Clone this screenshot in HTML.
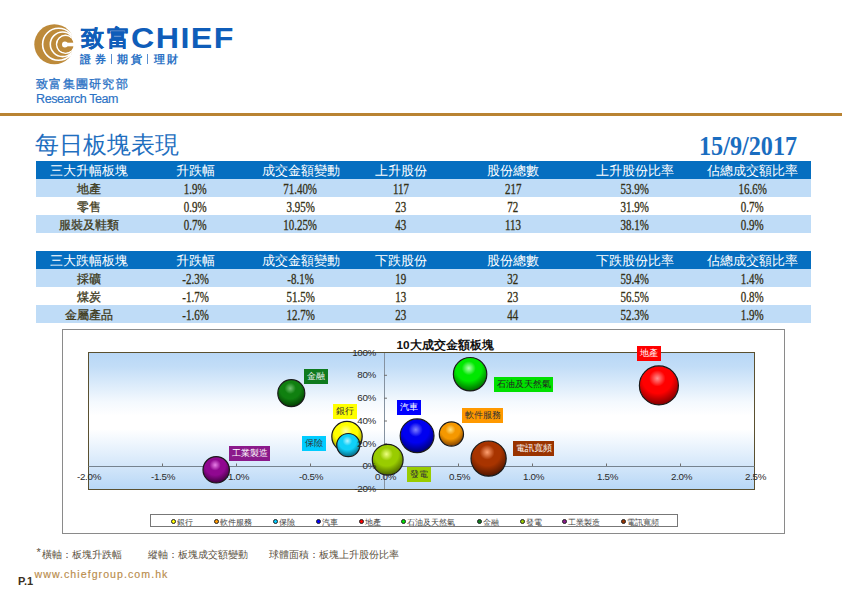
<!DOCTYPE html>
<html><head><meta charset="utf-8">
<style>
*{margin:0;padding:0;box-sizing:border-box}
html,body{width:842px;height:595px;overflow:hidden;background:#fff}
body{position:relative;font-family:"Liberation Sans",sans-serif}
.a{position:absolute;white-space:nowrap}
.gold{background:#B98332}
table.t{position:absolute;left:36px;width:775px;border-collapse:collapse;table-layout:fixed}
table.t td{height:16px;padding:2px 0 0 0;text-align:center;vertical-align:middle;font-family:"Liberation Serif",serif;font-size:12px;color:#3e3a1a;line-height:16px;overflow:hidden;-webkit-text-stroke:0.3px #3e3a1a}
table.t tr.h td{background:#056EC0;color:#fff;font-family:"Liberation Sans",sans-serif;font-size:13px;-webkit-text-stroke:0}
table.t tr.b td{background:#BFDCF7}
.num{display:inline-block;vertical-align:top;line-height:16px;transform:scaleX(.8);font-size:13.7px;position:relative;top:0.5px;-webkit-text-stroke:0.3px #332f14;color:#332f14}
.lab{position:absolute;font-size:9px;line-height:14.5px;height:14.5px;text-align:center;white-space:nowrap}
.ax{position:absolute;font-size:9.8px;color:#2a2a2a;white-space:nowrap;line-height:10px;letter-spacing:-0.3px}
.lg{position:absolute;top:516.5px;font-size:8.4px;color:#444;white-space:nowrap;line-height:10px}
.lg i{display:inline-block;width:5px;height:5px;border-radius:50%;border:0.8px solid #222;margin-right:1px;vertical-align:1px}
</style></head><body>

<!-- logo -->
<svg class="a" style="left:0;top:0" width="842" height="120" viewBox="0 0 842 120">
  <defs><clipPath id="lc"><rect x="0" y="0" width="71.8" height="120"/></clipPath><clipPath id="lc2"><rect x="0" y="0" width="73.8" height="120"/></clipPath></defs>
  <g clip-path="url(#lc)">
    <circle cx="54.3" cy="44.3" r="20" fill="#BD8A3A"/>
    <circle cx="58.6" cy="44.3" r="16" fill="none" stroke="#fff" stroke-width="1.6"/>
    <circle cx="62.6" cy="44.3" r="12.3" fill="none" stroke="#fff" stroke-width="1.6"/>
    <circle cx="65.5" cy="44.3" r="8.9" fill="none" stroke="#fff" stroke-width="1.6"/>
  </g>
  <circle cx="65.6" cy="44.4" r="8.1" fill="#BD8A3A" clip-path="url(#lc2)"/>
  <circle cx="64.9" cy="44.5" r="2.9" fill="#fff"/>
  <rect x="64.9" y="42.7" width="10" height="3.6" fill="#fff"/>
</svg>
<div class="a" style="left:80.5px;top:23px;font-size:23px;font-weight:bold;color:#0F5DB9;-webkit-text-stroke:0.3px #0F5DB9;line-height:30px;letter-spacing:3px">致富</div>
<div class="a" style="left:130.5px;top:20px;font-size:29px;font-weight:bold;color:#0F5DB9;line-height:36px;letter-spacing:1.3px;transform-origin:0 0;transform:scaleX(1.11)">CHIEF</div>
<div class="a" style="left:80px;top:52px;font-size:11px;font-weight:bold;color:#2B72C5;line-height:14px;letter-spacing:3.5px">證券</div>
<div class="a" style="left:117px;top:52px;font-size:11px;font-weight:bold;color:#2B72C5;line-height:14px;letter-spacing:2.5px">期貨</div>
<div class="a" style="left:154px;top:52px;font-size:11px;font-weight:bold;color:#2B72C5;line-height:14px;letter-spacing:1.5px">理財</div>
<div class="a" style="left:111px;top:54px;width:1px;height:10px;background:#5a8fd0"></div>
<div class="a" style="left:147px;top:54px;width:1px;height:10px;background:#5a8fd0"></div>
<div class="a" style="left:36px;top:77px;font-size:11.5px;color:#2B72C5;line-height:14px;letter-spacing:1.3px;-webkit-text-stroke:0.3px #2B72C5">致富集團研究部</div>
<div class="a" style="left:36px;top:92px;font-size:12.5px;color:#2B72C5;-webkit-text-stroke:0.15px #2B72C5;line-height:14px;letter-spacing:-0.4px">Research Team</div>
<div class="a gold" style="left:0;top:113px;width:842px;height:3px"></div>

<!-- title -->
<div class="a" style="left:35px;top:131px;font-size:24px;color:#1F6FBF;line-height:28px">每日板塊表現</div>
<div class="a" style="left:698.5px;top:131.7px;font-size:26.3px;font-weight:bold;color:#1A6DC0;line-height:30px;font-family:'Liberation Serif',serif;transform-origin:0 0;transform:scaleX(.92)">15/9/2017</div>

<!-- table 1 -->
<table class="t" style="top:161px">
<colgroup><col style="width:105px"><col style="width:109px"><col style="width:101px"><col style="width:100px"><col style="width:124px"><col style="width:119px"><col style="width:117px"></colgroup>
<tr class="h"><td>三大升幅板塊</td><td>升跌幅</td><td>成交金額變動</td><td>上升股份</td><td>股份總數</td><td>上升股份比率</td><td>佔總成交額比率</td></tr>
<tr class="b"><td>地產</td><td><span class="num">1.9%</span></td><td><span class="num">71.40%</span></td><td><span class="num">117</span></td><td><span class="num">217</span></td><td><span class="num">53.9%</span></td><td><span class="num">16.6%</span></td></tr>
<tr><td>零售</td><td><span class="num">0.9%</span></td><td><span class="num">3.95%</span></td><td><span class="num">23</span></td><td><span class="num">72</span></td><td><span class="num">31.9%</span></td><td><span class="num">0.7%</span></td></tr>
<tr class="b"><td>服裝及鞋類</td><td><span class="num">0.7%</span></td><td><span class="num">10.25%</span></td><td><span class="num">43</span></td><td><span class="num">113</span></td><td><span class="num">38.1%</span></td><td><span class="num">0.9%</span></td></tr>
</table>

<!-- table 2 -->
<table class="t" style="top:251px">
<colgroup><col style="width:105px"><col style="width:109px"><col style="width:101px"><col style="width:100px"><col style="width:124px"><col style="width:119px"><col style="width:117px"></colgroup>
<tr class="h"><td>三大跌幅板塊</td><td>升跌幅</td><td>成交金額變動</td><td>下跌股份</td><td>股份總數</td><td>下跌股份比率</td><td>佔總成交額比率</td></tr>
<tr class="b"><td>採礦</td><td><span class="num">-2.3%</span></td><td><span class="num">-8.1%</span></td><td><span class="num">19</span></td><td><span class="num">32</span></td><td><span class="num">59.4%</span></td><td><span class="num">1.4%</span></td></tr>
<tr><td>煤炭</td><td><span class="num">-1.7%</span></td><td><span class="num">51.5%</span></td><td><span class="num">13</span></td><td><span class="num">23</span></td><td><span class="num">56.5%</span></td><td><span class="num">0.8%</span></td></tr>
<tr class="b"><td>金屬產品</td><td><span class="num">-1.6%</span></td><td><span class="num">12.7%</span></td><td><span class="num">23</span></td><td><span class="num">44</span></td><td><span class="num">52.3%</span></td><td><span class="num">1.9%</span></td></tr>
</table>

<!-- chart -->
<div class="a" style="left:62px;top:329px;width:723px;height:205px;border:1px solid #8a8a8a"></div>
<div class="a" style="left:88px;top:352px;width:667px;height:138px;border:1.3px solid #5a5030;background:linear-gradient(#B8D7F6 0%,#C2DDF7 10%,#F4F9FE 36%,#ffffff 46%,#ffffff 56%,#F2F8FE 64%,#B8D7F6 100%)"></div>
<div class="a" style="left:396.5px;top:337.5px;font-size:11.8px;font-weight:bold;color:#111;line-height:14px">10大成交金額板塊</div>

<svg class="a" style="left:0;top:0" width="842" height="595" viewBox="0 0 842 595">
  <defs>
    <radialGradient id="gy" cx="0.46" cy="0.32" r="0.7"><stop offset="0" stop-color="#ffffb0"/><stop offset="0.3" stop-color="#ffff00"/><stop offset="0.55" stop-color="#ffff00"/><stop offset="1" stop-color="#8a8600"/></radialGradient>
    <radialGradient id="gc" cx="0.46" cy="0.32" r="0.7"><stop offset="0" stop-color="#b0f4ff"/><stop offset="0.3" stop-color="#10d0f8"/><stop offset="0.55" stop-color="#10d0f8"/><stop offset="1" stop-color="#066078"/></radialGradient>
    <radialGradient id="gg" cx="0.46" cy="0.32" r="0.7"><stop offset="0" stop-color="#70c070"/><stop offset="0.3" stop-color="#108010"/><stop offset="0.55" stop-color="#108010"/><stop offset="1" stop-color="#023802"/></radialGradient>
    <radialGradient id="gp" cx="0.46" cy="0.32" r="0.7"><stop offset="0" stop-color="#e880e8"/><stop offset="0.3" stop-color="#900890"/><stop offset="0.55" stop-color="#900890"/><stop offset="1" stop-color="#3a003a"/></radialGradient>
    <radialGradient id="gl" cx="0.46" cy="0.32" r="0.7"><stop offset="0" stop-color="#eeff80"/><stop offset="0.3" stop-color="#99cc00"/><stop offset="0.55" stop-color="#99cc00"/><stop offset="1" stop-color="#445c00"/></radialGradient>
    <radialGradient id="gb" cx="0.46" cy="0.32" r="0.7"><stop offset="0" stop-color="#8080ff"/><stop offset="0.3" stop-color="#0000f0"/><stop offset="0.55" stop-color="#0000f0"/><stop offset="1" stop-color="#000068"/></radialGradient>
    <radialGradient id="go" cx="0.46" cy="0.32" r="0.7"><stop offset="0" stop-color="#ffe080"/><stop offset="0.3" stop-color="#f59800"/><stop offset="0.55" stop-color="#f59800"/><stop offset="1" stop-color="#7a3c00"/></radialGradient>
    <radialGradient id="gn" cx="0.46" cy="0.32" r="0.7"><stop offset="0" stop-color="#b0ffb0"/><stop offset="0.3" stop-color="#00e800"/><stop offset="0.55" stop-color="#00e800"/><stop offset="1" stop-color="#006000"/></radialGradient>
    <radialGradient id="gw" cx="0.46" cy="0.32" r="0.7"><stop offset="0" stop-color="#ffa070"/><stop offset="0.3" stop-color="#a83400"/><stop offset="0.55" stop-color="#a83400"/><stop offset="1" stop-color="#4a1400"/></radialGradient>
    <radialGradient id="gr" cx="0.46" cy="0.32" r="0.7"><stop offset="0" stop-color="#ff9090"/><stop offset="0.3" stop-color="#ff0000"/><stop offset="0.55" stop-color="#ff0000"/><stop offset="1" stop-color="#780000"/></radialGradient>
  </defs>
  <!-- axes -->
  <line x1="88.5" y1="466.5" x2="754.5" y2="466.5" stroke="#76838f" stroke-width="1"/>
  <line x1="384.5" y1="353" x2="384.5" y2="489" stroke="#8592a0" stroke-width="1"/>
  <g stroke="#707070" stroke-width="1">
    <line x1="162.5" y1="463.5" x2="162.5" y2="466"/><line x1="236.5" y1="463.5" x2="236.5" y2="466"/><line x1="310.5" y1="463.5" x2="310.5" y2="466"/>
    <line x1="458.5" y1="463.5" x2="458.5" y2="466"/><line x1="532.5" y1="463.5" x2="532.5" y2="466"/><line x1="606.5" y1="463.5" x2="606.5" y2="466"/><line x1="680.5" y1="463.5" x2="680.5" y2="466"/>
    <line x1="384" y1="375.3" x2="387" y2="375.3"/><line x1="384" y1="398.2" x2="387" y2="398.2"/><line x1="384" y1="421" x2="387" y2="421"/><line x1="384" y1="443.8" x2="387" y2="443.8"/>
  </g>
  <!-- bubbles -->
  <g stroke="#1a1a1a" stroke-width="1.2">
    <circle cx="216.2" cy="469.8" r="13.2" fill="url(#gp)"/>
    <circle cx="291.3" cy="393.2" r="13.5" fill="url(#gg)"/>
    <circle cx="347" cy="436.6" r="15.2" fill="url(#gy)"/>
    <circle cx="348.3" cy="445.1" r="11.6" fill="url(#gc)"/>
    <circle cx="387.7" cy="459.7" r="15.4" fill="url(#gl)"/>
    <circle cx="417.1" cy="435.8" r="16.9" fill="url(#gb)"/>
    <circle cx="451.4" cy="434" r="12.1" fill="url(#go)"/>
    <circle cx="470.1" cy="374.2" r="16.7" fill="url(#gn)"/>
    <circle cx="488.6" cy="458.6" r="17.6" fill="url(#gw)"/>
    <circle cx="658.9" cy="385.4" r="19.5" fill="url(#gr)"/>
  </g>
</svg>

<!-- axis labels -->
<div class="ax" style="left:77px;top:471.5px">-2.0%</div>
<div class="ax" style="left:151px;top:471.5px">-1.5%</div>
<div class="ax" style="left:225px;top:471.5px">-1.0%</div>
<div class="ax" style="left:299px;top:471.5px">-0.5%</div>
<div class="ax" style="left:375px;top:471.5px">0.0%</div>
<div class="ax" style="left:449px;top:471.5px">0.5%</div>
<div class="ax" style="left:523px;top:471.5px">1.0%</div>
<div class="ax" style="left:597px;top:471.5px">1.5%</div>
<div class="ax" style="left:671px;top:471.5px">2.0%</div>
<div class="ax" style="left:745px;top:471.5px">2.5%</div>
<div class="ax" style="left:346px;top:348px;width:30px;text-align:right">100%</div>
<div class="ax" style="left:346px;top:370px;width:30px;text-align:right">80%</div>
<div class="ax" style="left:346px;top:393px;width:30px;text-align:right">60%</div>
<div class="ax" style="left:346px;top:416px;width:30px;text-align:right">40%</div>
<div class="ax" style="left:346px;top:439px;width:30px;text-align:right">20%</div>
<div class="ax" style="left:346px;top:461px;width:30px;text-align:right">0%</div>
<div class="ax" style="left:346px;top:484px;width:30px;text-align:right">-20%</div>

<!-- data labels -->
<div class="lab" style="left:229px;top:446px;width:41px;background:#8B1A8B;color:#fff">工業製造</div>
<div class="lab" style="left:304px;top:369px;width:24px;background:#0E7A1E;color:#eee">金融</div>
<div class="lab" style="left:333px;top:404px;width:24px;background:#FFFF00;color:#333">銀行</div>
<div class="lab" style="left:302px;top:436px;width:24px;background:#00CCFF;color:#333">保險</div>
<div class="lab" style="left:397px;top:400px;width:24px;background:#0000FF;color:#fff">汽車</div>
<div class="lab" style="left:407px;top:467px;width:24px;background:#99CC00;color:#333">發電</div>
<div class="lab" style="left:462px;top:408px;width:41px;background:#FF9900;color:#333">軟件服務</div>
<div class="lab" style="left:494px;top:377px;width:59px;background:#00E000;color:#222">石油及天然氣</div>
<div class="lab" style="left:513px;top:441px;width:41px;background:#993300;color:#fff">電訊寬頻</div>
<div class="lab" style="left:637px;top:346px;width:24px;background:#FF0000;color:#fff">地產</div>

<!-- legend -->
<div class="a" style="left:150px;top:514px;width:528px;height:13px;border:1px solid #777;background:#fff"></div>
<div class="lg" style="left:171px"><i style="background:#ffff00"></i>銀行</div>
<div class="lg" style="left:213.5px"><i style="background:#ff9900"></i>軟件服務</div>
<div class="lg" style="left:273px"><i style="background:#00ccff"></i>保險</div>
<div class="lg" style="left:316px"><i style="background:#0000ff"></i>汽車</div>
<div class="lg" style="left:358.5px"><i style="background:#ff0000"></i>地產</div>
<div class="lg" style="left:401px"><i style="background:#00e000"></i>石油及天然氣</div>
<div class="lg" style="left:477px"><i style="background:#0e7a1e"></i>金融</div>
<div class="lg" style="left:519.5px"><i style="background:#99cc00"></i>發電</div>
<div class="lg" style="left:562px"><i style="background:#8b1a8b"></i>工業製造</div>
<div class="lg" style="left:621px"><i style="background:#993300"></i>電訊寬頻</div>

<!-- footer -->
<div class="a" style="left:36.5px;top:546.5px;font-size:11px;color:#5a5040;line-height:10px">*</div>
<div class="a" style="left:42px;top:549px;font-size:9.9px;color:#5a5040;line-height:12px">橫軸：板塊升跌幅</div>
<div class="a" style="left:147.5px;top:549px;font-size:9.9px;color:#5a5040;line-height:12px">縱軸：板塊成交額變動</div>
<div class="a" style="left:268.5px;top:549px;font-size:9.9px;color:#5a5040;line-height:12px">球體面積：板塊上升股份比率</div>
<div class="a" style="left:18px;top:574px;font-size:11px;font-weight:bold;color:#3a3020;line-height:14px">P.1</div>
<div class="a" style="left:34.5px;top:566px;font-size:10.6px;color:#B98C4C;-webkit-text-stroke:0.15px #B98C4C;line-height:16px;letter-spacing:1.05px">www.chiefgroup.com.hk</div>
</body></html>
